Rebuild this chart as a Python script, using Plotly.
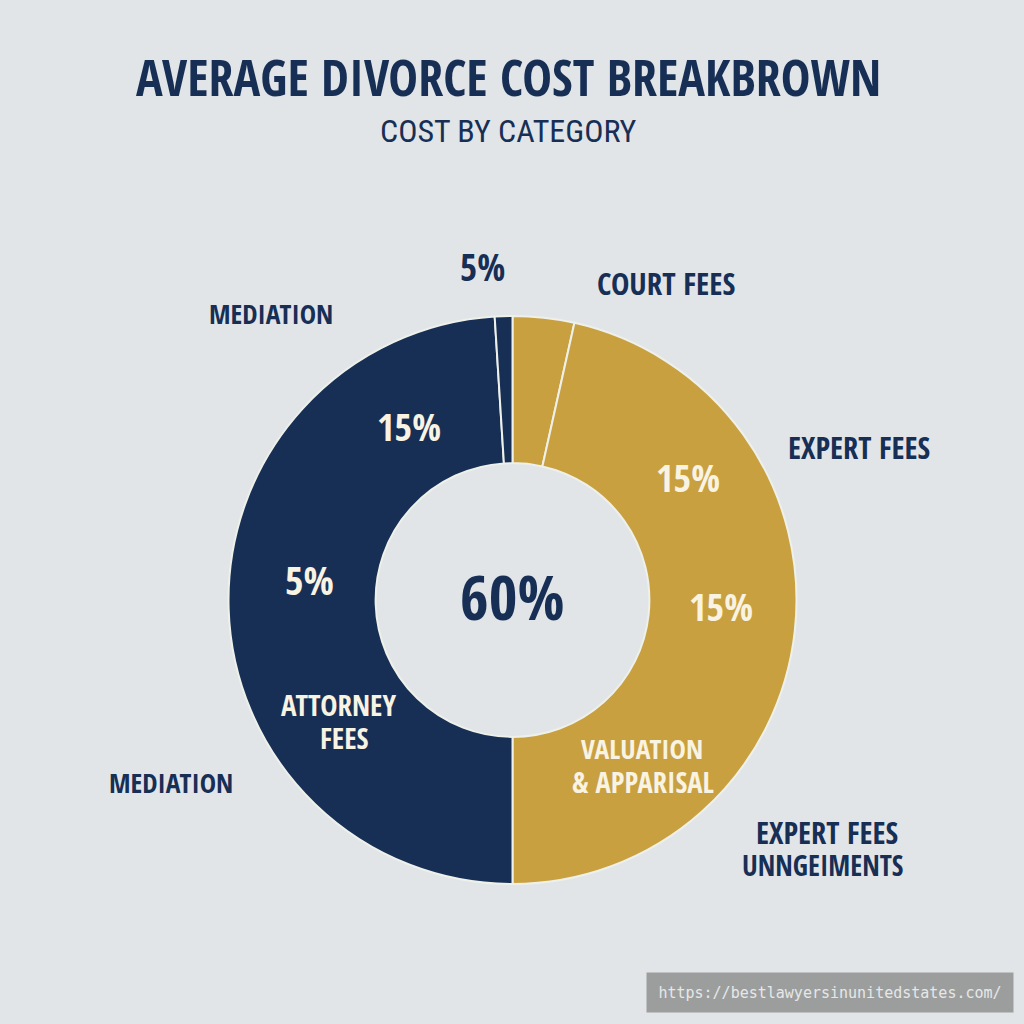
import plotly.graph_objects as go

slice_names = ["Court fees", "Valuation & appraisal", "Attorney fees", "Mediation"]
slice_values = [3.5, 46.5, 49.0, 1.0]
slice_colors = ["#c9a040", "#c9a040", "#172f55", "#172f55"]

NAVY = "#172f55"
CREAM = "#f8f3e2"
FONT = "Open Sans Condensed, Roboto Condensed, sans-serif"
LIGHT_FONT = "Roboto Condensed, sans-serif"

# text, x px, y px, size, colour, bold
labels = [
    ("AVERAGE DIVORCE COST BREAKBROWN", 508, 77, 50, NAVY, True),
    ("COST BY CATEGORY", 508, 131, 32, NAVY, False),
    ("5%", 482, 266, 37, NAVY, True),
    ("COURT FEES", 666, 283, 31, NAVY, True),
    ("MEDIATION", 271, 313, 27.5, NAVY, True),
    ("EXPERT FEES", 859, 447, 30.5, NAVY, True),
    ("15%", 409, 426, 38, CREAM, True),
    ("15%", 688, 477, 38, CREAM, True),
    ("5%", 309, 579, 40, CREAM, True),
    ("15%", 721, 606, 38, CREAM, True),
    ("60%", 512, 596, 62, NAVY, True),
    ("ATTORNEY", 338, 704, 29, CREAM, True),
    ("FEES", 344, 737, 29, CREAM, True),
    ("VALUATION", 642, 748, 27.5, CREAM, True),
    ("&amp; APPARISAL", 643, 782, 28.5, CREAM, True),
    ("MEDIATION", 171, 782, 27.5, NAVY, True),
    ("EXPERT FEES", 827, 832, 30.5, NAVY, True),
    ("UNNGEIMENTS", 822, 865, 28, NAVY, True),
]

fig = go.Figure(go.Pie(
    labels=slice_names,
    values=slice_values,
    sort=False,
    direction="clockwise",
    rotation=0,
    hole=0.482,
    textinfo="none",
    hoverinfo="label+percent",
    showlegend=False,
    marker=dict(colors=slice_colors, line=dict(color="#eef0ea", width=2)),
    domain=dict(x=[(512.5 - 284) / 1024, (512.5 + 284) / 1024],
                y=[1 - (600 + 284) / 1024, 1 - (600 - 284) / 1024]),
))

for text, x, y, size, color, bold in labels:
    fig.add_annotation(
        x=x / 1024, y=1 - y / 1024, xref="paper", yref="paper",
        text=f"<b>{text}</b>" if bold else text, showarrow=False,
        font=dict(family=FONT if bold else LIGHT_FONT, size=size, color=color),
        xanchor="center", yanchor="middle",
    )

fig.add_annotation(
    x=(646 + 1013) / 2 / 1024, y=1 - 992.5 / 1024, xref="paper", yref="paper",
    text="https://bestlawyersinunitedstates.com/", showarrow=False,
    font=dict(family="DejaVu Sans Mono", size=15, color="#e6e8e8"),
    xanchor="center", yanchor="middle",
    width=364, height=37, bgcolor="#9c9e9e",
)

fig.update_layout(
    width=1024, height=1024, autosize=False,
    margin=dict(l=0, r=0, t=0, b=0),
    paper_bgcolor="#e2e5e8",
    plot_bgcolor="#e2e5e8",
)
fig.write_html("out.html", config=dict(displayModeBar=False),
               post_script="document.body.style.margin='0';document.body.style.background='#e2e5e8';")
